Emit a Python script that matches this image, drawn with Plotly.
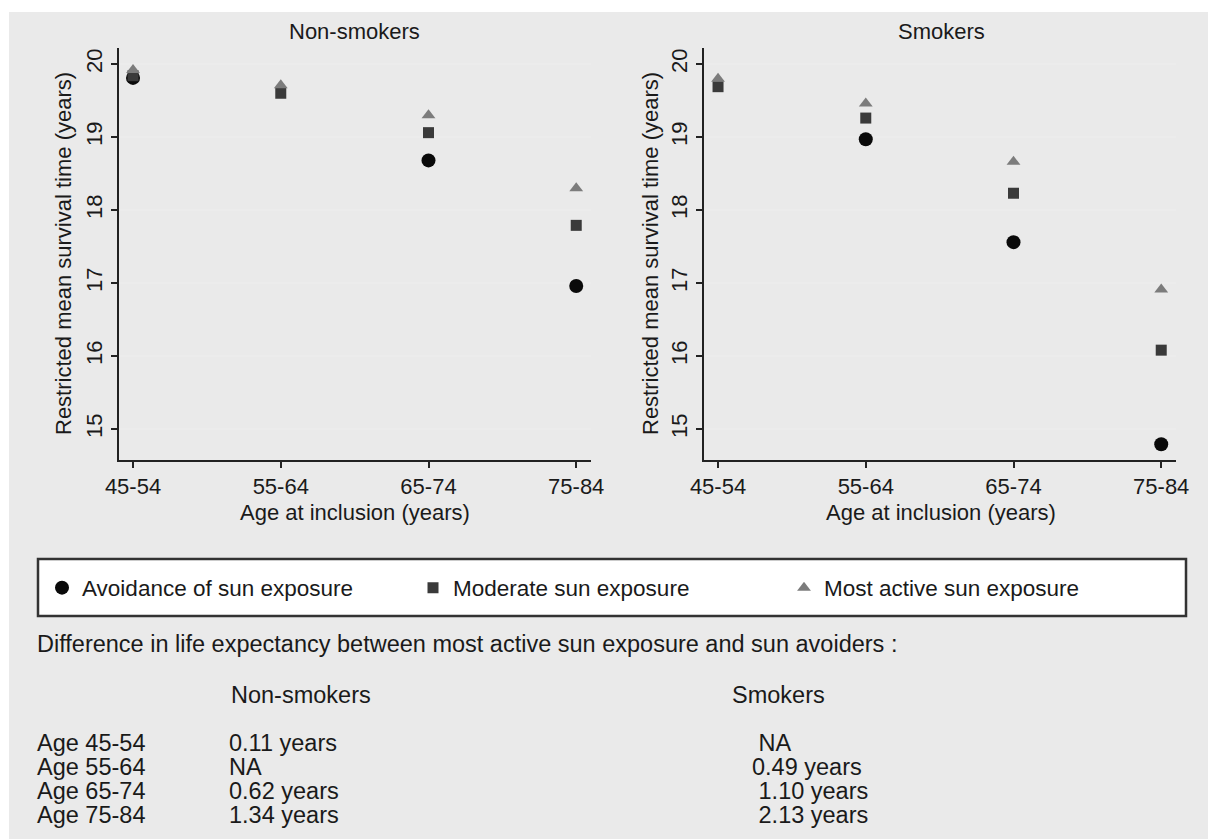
import plotly.graph_objects as go

W, H = 1208, 839

# ---------------- data ----------------
ages = ["45-54", "55-64", "65-74", "75-84"]
groups = ["Avoidance of sun exposure", "Moderate sun exposure", "Most active sun exposure"]

nonsmokers_avoid = [19.81, None, 18.68, 16.96]
nonsmokers_moderate = [19.84, 19.60, 19.06, 17.79]
nonsmokers_active = [19.92, 19.71, 19.30, 18.30]

smokers_avoid = [None, 18.97, 17.56, 14.79]
smokers_moderate = [19.69, 19.26, 18.23, 16.08]
smokers_active = [19.80, 19.46, 18.66, 16.91]

y_ticks = [15, 16, 17, 18, 19, 20]

panel_titles = ["Non-smokers", "Smokers"]
x_title = "Age at inclusion (years)"
y_title = "Restricted mean survival time (years)"

diff_title = "Difference in life expectancy between most active sun exposure and sun avoiders :"
diff_headers = ["Non-smokers", "Smokers"]
diff_rows = ["Age 45-54", "Age 55-64", "Age 65-74", "Age 75-84"]
diff_nonsmokers = ["0.11 years", "NA", "0.62 years", "1.34 years"]
diff_smokers = ["\u00a0NA", "0.49 years", "\u00a01.10 years", "\u00a02.13 years"]

# ---------------- styles ----------------
FONT = "Liberation Sans, Arial, Helvetica, sans-serif"
TXT = "#1a1a1a"
BG = "#eaeaea"
symbols = ["circle", "square", "triangle-up"]
colors = ["#0a0a0a", "#3a3a3a", "#7c7c7c"]
sizes = [14, 11, 12]
FS = 22
FS_NOTE = 23.5


def px(x):
    return x / W


def py(y):
    return 1 - y / H


fig = go.Figure()

panels = [
    (nonsmokers_avoid, nonsmokers_moderate, nonsmokers_active),
    (smokers_avoid, smokers_moderate, smokers_active),
]
for p, series in enumerate(panels):
    xa = "x" if p == 0 else "x2"
    ya = "y" if p == 0 else "y2"
    for g, vals in enumerate(series):
        fig.add_trace(go.Scatter(
            x=ages, y=vals, mode="markers", name=groups[g],
            marker=dict(symbol=symbols[g], color=colors[g], size=sizes[g], line=dict(width=0)),
            xaxis=xa, yaxis=ya, showlegend=(p == 0), legendrank=g,
        ))

ydom = [py(460), py(48)]
xdoms = [[px(119), px(591)], [px(704), px(1176)]]

axis_common_x = dict(
    type="category", range=[-0.095, 3.10], showgrid=False, zeroline=False,
    showline=True, linecolor="#222222", linewidth=2,
    ticks="outside", ticklen=6, tickwidth=1.5, tickcolor="#222222",
    tickfont=dict(family=FONT, size=FS, color=TXT), automargin=False,
)
axis_common_y = dict(
    range=[14.575, 20.22], tickvals=y_ticks, ticktext=[str(t) for t in y_ticks],
    tickangle=-90, showgrid=True, gridcolor="#ececec", gridwidth=2, zeroline=False,
    showline=True, linecolor="#222222", linewidth=2,
    ticks="outside", ticklen=6, tickwidth=1.5, tickcolor="#222222",
    tickfont=dict(family=FONT, size=FS, color=TXT), automargin=False,
)

fig.update_layout(
    width=W, height=H,
    margin=dict(l=0, r=0, t=0, b=0),
    paper_bgcolor="white", plot_bgcolor="white",
    font=dict(family=FONT, size=FS, color=TXT),
    xaxis=dict(domain=xdoms[0], anchor="y", **axis_common_x),
    yaxis=dict(domain=ydom, anchor="x", **axis_common_y),
    xaxis2=dict(domain=xdoms[1], anchor="y2", **axis_common_x),
    yaxis2=dict(domain=ydom, anchor="x2", **axis_common_y),
    showlegend=True,
    legend=dict(
        orientation="h", x=px(42), xanchor="left", y=py(588), yanchor="middle",
        bgcolor="rgba(0,0,0,0)", borderwidth=0,
        font=dict(family=FONT, size=22.5, color=TXT),
        entrywidth=326, entrywidthmode="pixels", itemsizing="trace",
        traceorder="normal",
    ),
)

shapes = [
    dict(type="rect", xref="paper", yref="paper", x0=px(9), x1=1, y0=0, y1=py(12),
         fillcolor=BG, line=dict(width=0), layer="below"),
    dict(type="rect", xref="paper", yref="paper", x0=px(38), x1=px(1186), y0=py(616), y1=py(559),
         fillcolor="white", line=dict(color="#333333", width=2.5), layer="below"),
]
fig.update_layout(shapes=shapes)


def note(x, y, text, xanchor="left", angle=0, size=FS):
    return dict(x=px(x), y=py(y), xref="paper", yref="paper", text=text,
                xanchor=xanchor, yanchor="middle", textangle=angle, showarrow=False,
                font=dict(family=FONT, size=size, color=TXT))


ann = []
centers = [355, 941]
ytitle_x = [63, 650]
for i in range(2):
    ann.append(note(centers[i], 32, panel_titles[i], "center"))
    ann.append(note(centers[i], 512, x_title, "center"))
    ann.append(note(ytitle_x[i], 254, y_title, "center", angle=-90))

ann.append(note(35, 644, diff_title, size=FS_NOTE))
ann.append(note(229, 695, diff_headers[0], size=FS_NOTE))
ann.append(note(730, 695, diff_headers[1], size=FS_NOTE))
row_y = [743, 767, 791, 815]
for i in range(4):
    ann.append(note(35, row_y[i], diff_rows[i], size=FS_NOTE))
    ann.append(note(227, row_y[i], diff_nonsmokers[i], size=FS_NOTE))
    ann.append(note(750, row_y[i], diff_smokers[i], size=FS_NOTE))
fig.update_layout(annotations=ann)

fig.write_html("out.html")
